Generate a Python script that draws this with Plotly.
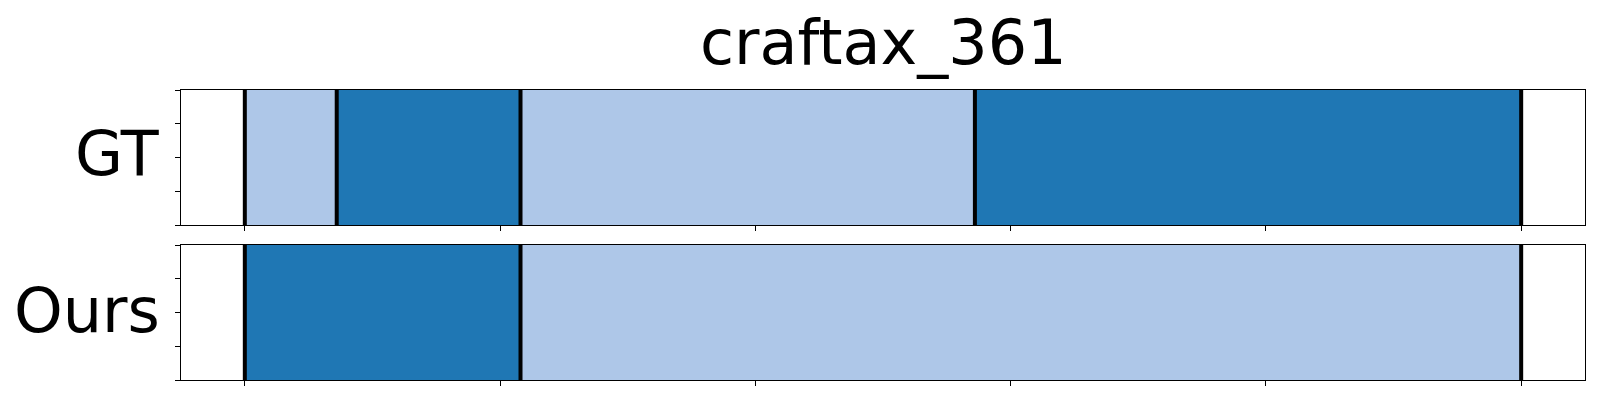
import plotly.graph_objects as go
from plotly.subplots import make_subplots

title = "craftax_361"
row_labels = ["GT", "Ours"]
total_len = 250
x_ticks = [0, 50, 100, 150, 200, 250]
y_ticks = [0, 0.25, 0.5, 0.75, 1.0]

gt_starts = [0, 18, 54, 143]
gt_ends = [18, 54, 143, 250]
gt_labels = [0, 1, 0, 1]

ours_starts = [0, 54]
ours_ends = [54, 250]
ours_labels = [1, 0]

palette = ["#aec7e8", "#1f77b4"]

W, H = 1600, 400
ml, mr, mt, mb = 181, 15, 90, 20
ph = H - mt - mb

fig = make_subplots(rows=2, cols=1, shared_xaxes=False, vertical_spacing=0)

rows = [(gt_starts, gt_ends, gt_labels), (ours_starts, ours_ends, ours_labels)]
for r, (starts, ends, labs) in enumerate(rows, start=1):
    for s, e, l in zip(starts, ends, labs):
        fig.add_trace(go.Bar(orientation="h", y=[0.5], x=[e - s], base=[s], width=[1.0],
                             marker=dict(color=palette[l], line=dict(width=0)),
                             showlegend=False, hoverinfo="skip"), row=r, col=1)
    bx, by = [], []
    for b in sorted(set(starts + ends)):
        bx += [b, b, None]
        by += [0, 1, None]
    fig.add_trace(go.Scatter(x=bx, y=by, mode="lines", line=dict(color="black", width=4),
                             showlegend=False, hoverinfo="skip"), row=r, col=1)

top_dom = [(H - mb - 225) / ph, 1.0]
bot_dom = [0.0, (H - mb - 245) / ph]

axis_common = dict(showline=True, linecolor="black", linewidth=1.3, mirror=True,
                   ticks="outside", ticklen=5, tickwidth=1, tickcolor="black",
                   showticklabels=False, showgrid=False, zeroline=False)
pad = 0.05 * total_len
for i, dom in [(1, top_dom), (2, bot_dom)]:
    fig.update_layout(**{
        f"xaxis{'' if i == 1 else i}": dict(range=[-pad, total_len + pad], tickvals=x_ticks, **axis_common),
        f"yaxis{'' if i == 1 else i}": dict(range=[0, 1], tickvals=y_ticks, domain=dom, **axis_common),
    })

annotations = []
for lab, dom, ys in zip(row_labels, [top_dom, bot_dom], [4, 2]):
    annotations.append(dict(text=lab, x=0, xref="paper", xshift=-19, xanchor="right",
                            y=(dom[0] + dom[1]) / 2, yref="paper", yanchor="middle", yshift=ys,
                            showarrow=False, font=dict(family="DejaVu Sans", size=62, color="black")))
annotations.append(dict(text=title, x=0.5, xref="paper", xanchor="center",
                        y=1 + (mt - 42) / ph, yref="paper", yanchor="middle",
                        showarrow=False, font=dict(family="DejaVu Sans", size=62, color="black")))

fig.update_layout(width=W, height=H, margin=dict(l=ml, r=mr, t=mt, b=mb, autoexpand=False),
                  paper_bgcolor="white", plot_bgcolor="white", barmode="overlay",
                  annotations=annotations, bargap=0)

fig.write_html("out.html", config={"displayModeBar": False},
               post_script="document.body.style.margin='0px';")
